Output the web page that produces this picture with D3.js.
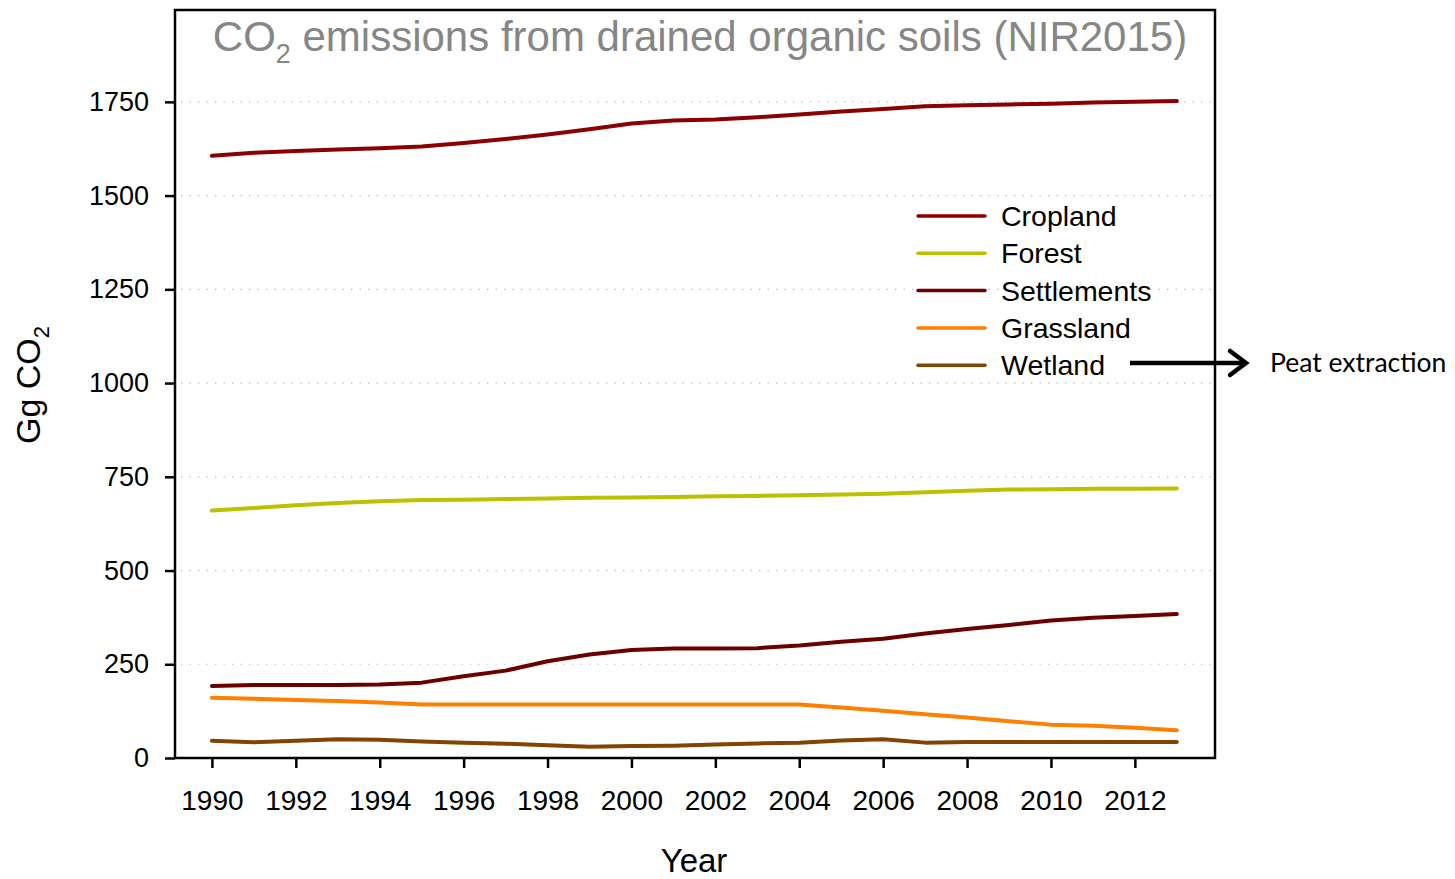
<!DOCTYPE html>
<html><head><meta charset="utf-8">
<script src="https://cdn.jsdelivr.net/npm/d3@7"></script>
<style>body{margin:0;background:#fff}svg{display:block}</style>
</head><body>
<svg id="c" width="1455" height="879"></svg>
<script>
const years = d3.range(1990, 2014);
const seriesNames = ["Cropland","Forest","Settlements","Grassland","Wetland"];
const seriesColors = ["#8b0000","#bcc000","#6a0000","#ff8000","#834400"];
const cropland = [1606,1614,1619,1623,1626,1631,1640,1651,1663,1677,1692,1700,1703,1709,1716,1724,1731,1738,1741,1743,1745,1748,1750,1752];
const forest = [660,667,674,680,685,688,689,691,692,694,695,696,698,699,701,703,705,709,713,716,717,718,718,719];
const settlements = [192,195,195,195,196,201,218,233,258,276,288,292,292,293,300,310,318,332,344,355,367,374,379,384];
const grassland = [161,158,155,152,148,143,143,143,143,143,143,143,143,143,143,135,126,117,108,98,89,86,81,74];
const wetland = [46,42,46,50,49,44,41,38,34,30,32,33,36,39,41,47,50,41,43,43,43,43,43,43];
const yTicks = [0,250,500,750,1000,1250,1500,1750];
const xTicks = d3.range(1990, 2013, 2);

const data = [cropland, forest, settlements, grassland, wetland];
const svg = d3.select("#c");
const L = 175, R = 1215, T = 10, B = 758;
const x = d3.scaleLinear().domain([1989.12, 2013.91]).range([L, R]);
const y = d3.scaleLinear().domain([0, 1995]).range([B, T]);
const font = "'Liberation Sans', Arial, sans-serif";

// gridlines
svg.append("g").selectAll("line").data(yTicks.filter(d => d > 0)).join("line")
  .attr("x1", L + 6).attr("x2", R - 4)
  .attr("y1", d => y(d)).attr("y2", d => y(d))
  .attr("stroke", "#b8b8b8").attr("stroke-width", 1.2).attr("stroke-dasharray", "1.3,7.2");

// frame
svg.append("rect").attr("x", L).attr("y", T).attr("width", R - L).attr("height", B - T)
  .attr("fill", "none").attr("stroke", "#000").attr("stroke-width", 2.5);

// y axis
const yAxis = svg.append("g").attr("transform", `translate(${L},0)`)
  .call(d3.axisLeft(y).tickValues(yTicks).tickSize(10).tickPadding(16).tickFormat(d3.format("d")));
yAxis.select(".domain").remove();
yAxis.selectAll("line").attr("stroke-width", 2.5);
yAxis.selectAll("text").attr("font-family", font).attr("font-size", 27).attr("fill", "#000");

// x axis
const xAxis = svg.append("g").attr("transform", `translate(0,${B})`)
  .call(d3.axisBottom(x).tickValues(xTicks).tickSize(10).tickPadding(22).tickFormat(d3.format("d")));
xAxis.select(".domain").remove();
xAxis.selectAll("line").attr("stroke-width", 2.5);
xAxis.selectAll("text").attr("font-family", font).attr("font-size", 28).attr("fill", "#000");

// lines
const line = d3.line().x((d, i) => x(years[i])).y(d => y(d));
svg.append("g").selectAll("path").data(data).join("path")
  .attr("d", line).attr("fill", "none")
  .attr("stroke", (d, i) => seriesColors[i]).attr("stroke-width", 4)
  .attr("stroke-linejoin", "round").attr("stroke-linecap", "round");

// title
const title = svg.append("text").attr("x", 700).attr("y", 51).attr("text-anchor", "middle")
  .attr("font-family", font).attr("font-size", 42).attr("fill", "#868686");
title.append("tspan").text("CO");
title.append("tspan").attr("font-size", 27).attr("dy", 12).text("2");
title.append("tspan").attr("dy", -12).text(" emissions from drained organic soils (NIR2015)");

// axis titles
svg.append("text").attr("x", 694).attr("y", 872).attr("text-anchor", "middle")
  .attr("font-family", font).attr("font-size", 33).attr("fill", "#000").text("Year");
const yt = svg.append("text").attr("transform", "translate(40,385) rotate(-90)").attr("text-anchor", "middle")
  .attr("font-family", font).attr("font-size", 34).attr("fill", "#000");
yt.append("tspan").text("Gg CO");
yt.append("tspan").attr("font-size", 22).attr("dy", 9).text("2");

// legend
const lg = svg.append("g").selectAll("g").data(seriesNames).join("g")
  .attr("transform", (d, i) => `translate(918,${216 + i * 37.3})`);
lg.append("line").attr("x1", 0).attr("x2", 67).attr("stroke", (d, i) => seriesColors[i])
  .attr("stroke-width", 3.5).attr("stroke-linecap", "round");
lg.append("text").attr("x", 83).attr("y", 10).attr("font-family", font).attr("font-size", 28.5)
  .attr("fill", "#000").text(d => d);

// annotation arrow
const ay = 363;
svg.append("line").attr("x1", 1130).attr("x2", 1246).attr("y1", ay).attr("y2", ay)
  .attr("stroke", "#000").attr("stroke-width", 4.5);
svg.append("path").attr("d", `M1230,${ay - 12} L1246,${ay} L1230,${ay + 12}`)
  .attr("fill", "none").attr("stroke", "#000").attr("stroke-width", 4.5)
  .attr("stroke-linecap", "round").attr("stroke-linejoin", "miter");
svg.append("text").attr("x", 1270).attr("y", 372).attr("font-family", "Lato, 'Open Sans', sans-serif")
  .attr("font-size", 26.5).attr("fill", "#000").text("Peat extraction");
</script>
</body></html>
